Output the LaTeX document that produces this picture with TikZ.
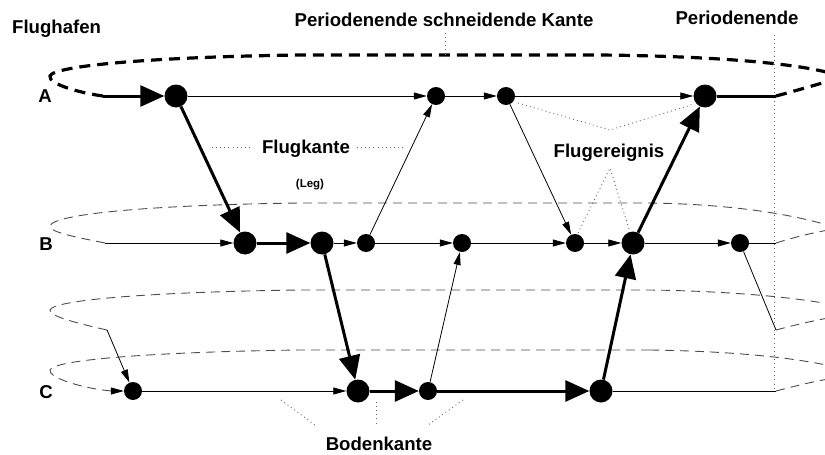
\documentclass[tikz,border=0pt]{standalone}
\usepackage{fontspec}
\setmainfont{Liberation Sans}
\usetikzlibrary{arrows.meta}
\begin{document}
\begin{tikzpicture}[x=1pt,y=-1pt,
  bignode/.style={circle,fill=black,inner sep=0pt,minimum size=23pt},
  smallnode/.style={circle,fill=black,inner sep=0pt,minimum size=18pt},
  lbl/.style={font=\fontsize{18.6}{21}\selectfont\bfseries,inner sep=0pt,anchor=base},
  smalllbl/.style={font=\fontsize{11.5}{13}\selectfont\bfseries,inner sep=0pt,anchor=base},
  legline/.style={line width=0.8pt},
  legarrow/.style={line width=0.8pt,-{Triangle[length=13pt,width=7pt]}},
  heavy/.style={line width=3pt},
  heavyarrow/.style={line width=3pt,-{Triangle[length=24pt,width=21pt]}},
  loopA/.style={line width=3.2pt,dash pattern=on 11pt off 7pt},
  loopG/.style={line width=0.9pt,color=black!70,dash pattern=on 9pt off 6pt},
  note/.style={line width=0.9pt,color=black!60,dash pattern=on 0.9pt off 3.2pt},
]
\useasboundingbox (0,0) rectangle (825,455);
\clip (0,0) rectangle (825,455);

% time-line events
\node[bignode]   (A1) at (176,96) {};
\node[smallnode] (A2) at (436,96) {};
\node[smallnode] (A3) at (506,96) {};
\node[bignode]   (A4) at (705,96) {};
\node[bignode]   (B1) at (245,243) {};
\node[bignode]   (B2) at (322,243) {};
\node[smallnode] (B3) at (366,243) {};
\node[smallnode] (B4) at (462,243) {};
\node[smallnode] (B5) at (575,243) {};
\node[bignode]   (B6) at (633,243) {};
\node[smallnode] (B7) at (740,243) {};
\node[smallnode] (C1) at (133,391) {};
\node[bignode]   (C2) at (358,391) {};
\node[smallnode] (C3) at (428,391) {};
\node[bignode]   (C4) at (601,391) {};

% ends of the time lines at the period limits
\coordinate (aS) at (103,96);
\coordinate (aE) at (776,96);
\coordinate (bS) at (105,243);
\coordinate (bE) at (776,243);
\coordinate (mS) at (107,330);
\coordinate (mE) at (776,330);
\coordinate (cE) at (776,391);

% wrap-around loops
\draw[loopA] (aS) .. controls (80,93) and (48,84) .. (50,76)
  .. controls (53,66) and (150,57) .. (300,55) -- (600,55)
  .. controls (700,56) and (800,62) .. (840,76);
\draw[loopA] (aE) .. controls (795,91) and (815,85) .. (840,78);

\draw[loopG] (bS) .. controls (80,238) and (48,232) .. (50,226)
  .. controls (53,214) and (150,205) .. (300,203) -- (650,203)
  .. controls (720,204) and (790,212) .. (840,229);
\draw[loopG] (bE) .. controls (795,237) and (815,232) .. (840,228);

\draw[loopG] (mS) .. controls (80,324) and (48,316) .. (50,310)
  .. controls (53,300) and (150,292) .. (300,290) -- (650,290)
  .. controls (720,291) and (790,296) .. (840,306);
\draw[loopG] (mE) .. controls (795,325) and (815,320) .. (840,316);

\draw[loopG] (650,350) -- (300,350)
  .. controls (150,352) and (53,360) .. (50,370)
  .. controls (48,378) and (85,389) .. (112,391);
\draw[loopG] (650,350) .. controls (720,351) and (790,356) .. (840,368);
\draw[loopG] (cE) .. controls (795,386) and (815,381) .. (840,377);
\draw[legarrow] (112,391) -- (C1);

% period end
\draw[note] (774,35) -- (774,390);

% row A
\draw[heavyarrow] (aS) -- (A1);
\draw[legarrow] (A1) -- (A2);
\draw[legarrow] (A2) -- (A3);
\draw[legarrow] (A3) -- (A4);
\draw[heavy] (A4) -- (aE);

% row B
\draw[legarrow] (bS) -- (B1);
\draw[heavyarrow] (B1) -- (B2);
\draw[legarrow] (B2) -- (B3);
\draw[legarrow] (B3) -- (B4);
\draw[legarrow] (B4) -- (B5);
\draw[legarrow] (B5) -- (B6);
\draw[legarrow] (B6) -- (B7);
\draw[legline] (B7) -- (bE);
\draw[legline] (B7) -- (mE);

% row C
\draw[legarrow] (mS) -- (C1);
\draw[legarrow] (C1) -- (C2);
\draw[heavyarrow] (C2) -- (C3);
\draw[heavyarrow] (C3) -- (C4);
\draw[legline] (C4) -- (cE);

% flights between airports
\draw[heavyarrow] (A1) -- (B1);
\draw[legarrow] (B3) -- (A2);
\draw[legarrow] (A3) -- (B5);
\draw[heavyarrow] (B2) -- (C2);
\draw[legarrow] (C3) -- (B4);
\draw[heavyarrow] (C4) -- (B6);
\draw[heavyarrow] (B6) -- (A4);

% labels
\node[lbl,anchor=base west] (tFh) at (12,34) {Flughafen};
\node[lbl] (tPsk) at (444,27) {Periodenende schneidende Kante};
\node[lbl] (tPe) at (737,24) {Periodenende};
\node[lbl] (tA) at (45,102) {A};
\node[lbl] (tB) at (46,250) {B};
\node[lbl] (tC) at (46,398) {C};
\node[lbl] (tFk) at (306,153) {Flugkante};
\node[smalllbl] (tLeg) at (310,187) {(Leg)};
\node[lbl] (tFe) at (609,157) {Flugereignis};
\node[lbl] (tBk) at (379,450) {Bodenkante};

% pointer lines of the labels
\draw[note] (445,33) -- (445,56);
\draw[note] (212,147) -- (253,147);
\draw[note] (357,147) -- (405,147);
\draw[note] (518,103) -- (610,130) -- (694,104);
\draw[note] (578,233) -- (610,168) -- (629,229);
\draw[note] (281,400) -- (315,425);
\draw[note] (376,402) -- (376,426);
\draw[note] (463,400) -- (428,425);
\end{tikzpicture}
\end{document}
